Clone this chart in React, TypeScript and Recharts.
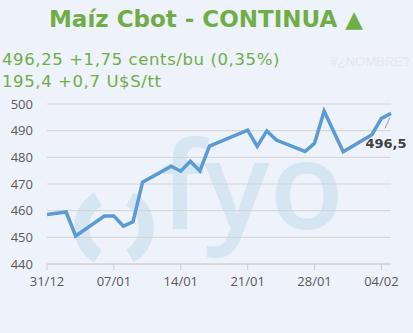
import { CartesianGrid, Line, LineChart, XAxis, YAxis } from 'recharts';

// days since 31/12 and settlement prices (cents/bu)
const days = [0, 2, 3, 6, 7, 8, 9, 10, 13, 14, 15, 16, 17, 21, 22, 23, 24, 27, 28, 29, 31, 34, 35, 36];
const prices = [
  458.6, 459.5, 450.5, 458.0, 458.0, 454.2, 455.8, 470.7, 476.7, 474.8, 478.5, 474.9, 484.2, 490.2, 484.1,
  489.9, 486.5, 482.2, 485.3, 497.3, 482.1, 488.5, 494.6, 496.5,
];
const xTicks = [0, 7, 14, 21, 28, 35];
const xTickLabels = ['31/12', '07/01', '14/01', '21/01', '28/01', '04/02'];
const yTicks = [440, 450, 460, 470, 480, 490, 500];

const data = days.map((d, i) => ({ day: d, price: prices[i] }));

const bg = '#eef2fa';
const green = '#70ad47';
const blue = '#5b9bd5';
const watermark = '#d5e6f2';

const LastLabel = (props: any) => {
  const { x, y, index, value } = props;
  if (index !== data.length - 1) return null;
  return (
    <g>
      <line x1={x - 1} y1={y + 4} x2={x - 6} y2={y + 15} stroke="#9a9a9a" strokeWidth={1} />
      <text
        x={x - 5}
        y={y + 35}
        textAnchor="middle"
        fontFamily="DejaVu Sans"
        fontWeight={700}
        fontSize={13}
        fill="#404040"
      >
        {String(value).replace('.', ',')}
      </text>
    </g>
  );
};

export default function App() {
  return (
    <div style={{ position: 'absolute', left: 0, top: 0, width: 413, height: 333, background: bg, overflow: 'hidden' }}>
      {/* fyo watermark */}
      <svg width={413} height={333} style={{ position: 'absolute', left: 0, top: 0 }}>
        <path d="M 98 199 A 33 33 0 0 0 98 256" fill="none" stroke={watermark} strokeWidth={15} />
        <path d="M 130 199 A 33 33 0 0 1 130 256" fill="none" stroke={watermark} strokeWidth={15} />
        <text x={160} y={229} fontFamily="Open Sans" fontWeight={600} fontSize={122} fill={watermark}>
          fyo
        </text>
      </svg>

      <div style={{ position: 'absolute', left: 0, top: 0 }}>
        <LineChart width={413} height={333} data={data} margin={{ top: 104, right: 22, bottom: 39, left: 0 }}>
          <CartesianGrid vertical={false} stroke="#d4d4d4" strokeWidth={1} />
          <XAxis
            type="number"
            dataKey="day"
            domain={[0, 36]}
            ticks={xTicks}
            tickFormatter={(v: number) => xTickLabels[xTicks.indexOf(v)]}
            stroke="#d0d0d0"
            tickSize={6}
            tickMargin={7}
            tick={{ fill: '#595959', fontSize: 13, fontFamily: 'Open Sans' }}
            interval={0}
          />
          <YAxis
            domain={[440, 500]}
            ticks={yTicks}
            width={47}
            axisLine={false}
            tickLine={false}
            tickSize={0}
            tickMargin={14}
            tick={{ fill: '#595959', fontSize: 13, fontFamily: 'Open Sans' }}
            interval={0}
          />
          <Line
            type="linear"
            dataKey="price"
            stroke={blue}
            strokeWidth={3.5}
            strokeLinejoin="miter"
            dot={false}
            activeDot={false}
            isAnimationActive={false}
            label={<LastLabel />}
          />
        </LineChart>
      </div>

      <svg width={413} height={100} style={{ position: 'absolute', left: 0, top: 0 }}>
        <text x={206} y={27} textAnchor="middle" fontFamily="DejaVu Sans" fontWeight={700} fontSize={23} fill={green}>
          Maíz Cbot - CONTINUA ▲
        </text>
        <text x={2} y={65} fontFamily="DejaVu Sans" fontSize={16.5} letterSpacing={0.6} fill={green}>
          496,25 +1,75 cents/bu (0,35%)
        </text>
        <text x={2} y={87} fontFamily="DejaVu Sans" fontSize={16.5} letterSpacing={0.6} fill={green}>
          195,4 +0,7 U$S/tt
        </text>
        <text x={410} y={66} textAnchor="end" fontFamily="Liberation Sans" fontSize={13} fill="#e4e7ee">
          #¿NOMBRE?
        </text>
      </svg>
    </div>
  );
}
